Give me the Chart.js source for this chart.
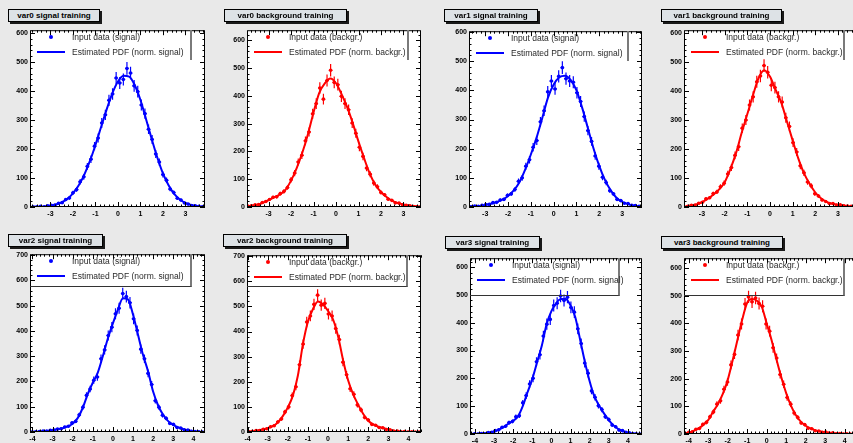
<!DOCTYPE html>
<html><head><meta charset="utf-8">
<script src="https://cdn.jsdelivr.net/npm/chart.js@4.4.1/dist/chart.umd.min.js"></script>
<style>
html,body{margin:0;padding:0;}
body{width:853px;height:443px;overflow:hidden;background:#e9e9e9;position:relative;font-family:"Liberation Sans",Arial,sans-serif;}
canvas{position:absolute;}
.ttl{position:absolute;box-sizing:border-box;border:1px solid #000;background:#dde2e6;box-shadow:2px 2px 0 #1a1a1a;font-weight:bold;font-size:8px;text-align:center;color:#000;white-space:nowrap;}
.leg{position:absolute;box-sizing:border-box;pointer-events:none;}
.leg span{position:absolute;font-size:8.5px;line-height:10px;color:#2a2a2a;white-space:nowrap;}
.leg i{position:absolute;display:block;}
</style></head><body>
<script>
// ===================== DATA =====================
// var0 signal
const var0SignalBinStart = -4.0, var0SignalBinWidth = 0.16;
const var0SignalCounts = [0,0,1,2,1,4,6,7,13,15, 26,31,49,60,87,104,140,165,210,238, 290,318,368,390,445,428,440,478,462,418, 398,352,322,268,233,183,155,112,92,62, 50,30,24,14,10,5,4,2,1,1];
const var0SignalPdfStart = -4.0, var0SignalPdfStep = 0.25;
const var0SignalPdf = [0,0.5,1,2,4,9,16,28,47,74,111,158,214,276,337,392,433,453,450,420,369,303,235,171,116,75,45,26,14,7,3,1,0.5];
const var0SignalXRange = [-3.91, 3.87];
const var0SignalXTicks = [-3,-2,-1,0,1,2,3];
const var0SignalYMax = 610;
const var0SignalYTicks = [0,100,200,300,400,500,600];

// var0 background
const var0BackgroundBinStart = -4.0, var0BackgroundBinWidth = 0.16;
const var0BackgroundCounts = [3,4,8,9,16,20,27,35,37,48, 56,70,98,122,162,186,238,270,335,372, 428,388,455,492,448,440,398,372,350,302, 265,215,182,140,118,86,73,52,44,28, 24,15,14,8,6,4,2,1,1];
const var0BackgroundPdfStart = -4.0, var0BackgroundPdfStep = 0.25;
const var0BackgroundPdf = [2,5,8,15,25,35,45,62,95,140,195,262,340,410,445,462,445,405,358,300,235,175,120,80,54,36,22,14,9,5,3,1,0.5];
const var0BackgroundXRange = [-3.96, 3.78];
const var0BackgroundXTicks = [-3,-2,-1,0,1,2,3];
const var0BackgroundYMax = 636;
const var0BackgroundYTicks = [0,100,200,300,400,500,600];

// var1 signal
const var1SignalBinStart = -3.7, var1SignalBinWidth = 0.16;
const var1SignalCounts = [1,3,2,6,8,9,15,16,24,26, 40,45,60,88,100,140,162,205,228,292, 330,395,432,405,448,478,440,432,428,392, 362,310,262,225,175,140,102,84,56,45, 26,22,13,12,6,5,2];
const var1SignalPdfStart = -3.75, var1SignalPdfStep = 0.25;
const var1SignalPdf = [1,2,3,7,11,17,25,38,57,85,128,180,238,305,375,420,445,450,435,400,340,270,200,140,92,57,32,18,10,5,2,1];
const var1SignalXRange = [-3.71, 3.87];
const var1SignalXTicks = [-3,-2,-1,0,1,2,3];
const var1SignalYMax = 603;
const var1SignalYTicks = [0,100,200,300,400,500,600];

// var1 background
const var1BackgroundBinStart = -3.7, var1BackgroundBinWidth = 0.16;
const var1BackgroundCounts = [2,6,7,13,16,28,32,46,52,70, 82,114,136,178,208,272,300,352,380,432, 452,488,465,420,412,380,362,308,278,222, 190,142,118,86,73,46,38,24,19,12, 12,7,8,4,3,2,1,0,1];
const var1BackgroundPdfStart = -3.75, var1BackgroundPdfStep = 0.25;
const var1BackgroundPdf = [2,5,9,17,28,42,60,85,130,185,255,320,385,445,472,450,405,360,295,230,168,117,80,50,30,18,11,7,5,2,1,0,0];
const var1BackgroundXRange = [-3.79, 4.06];
const var1BackgroundXTicks = [-3,-2,-1,0,1,2,3,4];
const var1BackgroundYMax = 610;
const var1BackgroundYTicks = [0,100,200,300,400,500,600];

// var2 signal
const var2SignalBinStart = -4.1, var2SignalBinWidth = 0.18;
const var2SignalCounts = [0,1,2,4,4,7,8,12,13,20, 23,36,42,68,98,145,170,205,218,290, 325,382,415,468,490,548,536,512,448,402, 328,290,232,188,124,98,66,54,34,30, 18,16,9,8,3,2,1,0];
const var2SignalPdfStart = -4.25, var2SignalPdfStep = 0.25;
const var2SignalPdf = [0,1,1,2,4,7,11,15,22,33,55,95,150,195,235,300,370,430,485,530,525,465,385,305,240,160,105,68,43,28,18,11,6,3,1,0,0];
const var2SignalXRange = [-4.12, 4.58];
const var2SignalXTicks = [-4,-3,-2,-1,0,1,2,3,4];
const var2SignalYMax = 704;
const var2SignalYTicks = [0,100,200,300,400,500,600,700];

// var2 background
const var2BackgroundBinStart = -4.03, var2BackgroundBinWidth = 0.18;
const var2BackgroundCounts = [1,3,6,6,11,13,21,25,40,52, 80,100,145,180,268,350,438,462,508,545, 505,512,470,462,412,368,278,228,172,150, 108,88,58,48,30,27,18,17,10,9, 4,4,1,2,0,1,0,0];
const var2BackgroundPdfStart = -4.25, var2BackgroundPdfStep = 0.25;
const var2BackgroundPdf = [1,2,3,6,10,15,23,38,63,98,145,225,350,440,490,520,508,482,448,380,285,205,150,108,72,45,30,21,15,10,5,3,1,1,0,0,0];
const var2BackgroundXRange = [-4.03, 4.62];
const var2BackgroundXTicks = [-4,-3,-2,-1,0,1,2,3,4];
const var2BackgroundYMax = 704;
const var2BackgroundYTicks = [0,100,200,300,400,500,600,700];

// var3 signal
const var3SignalBinStart = -4.29, var3SignalBinWidth = 0.18;
const var3SignalCounts = [0,1,0,2,1,5,6,12,15,24, 28,41,45,62,66,112,138,180,200,260, 285,352,395,412,462,470,496,480,492,455, 438,378,325,255,218,155,132,102,88,62, 52,32,26,14,12,6,4,1,1,0];
const var3SignalPdfStart = -4.25, var3SignalPdfStep = 0.25;
const var3SignalPdf = [0,0,1,2,5,9,16,25,37,48,63,100,150,198,258,318,395,442,470,485,485,462,420,340,260,190,135,102,74,50,31,18,10,5,2,0,0];
const var3SignalXRange = [-4.26, 4.74];
const var3SignalXTicks = [-4,-3,-2,-1,0,1,2,3,4];
const var3SignalYMax = 632;
const var3SignalYTicks = [0,100,200,300,400,500,600];

// var3 background
const var3BackgroundBinStart = -4.26, var3BackgroundBinWidth = 0.18;
const var3BackgroundCounts = [2,6,8,17,20,35,42,62,80,108, 120,162,188,250,288,358,398,470,496,478, 492,472,462,398,372,312,275,215,180,132, 108,76,60,40,34,21,19,12,11,6, 7,3,4,1,2,0,1,0,0,0];
const var3BackgroundPdfStart = -4.25, var3BackgroundPdfStep = 0.25;
const var3BackgroundPdf = [2,5,11,20,33,50,80,108,145,195,265,340,415,475,488,482,460,400,340,270,205,148,102,68,45,30,20,13,9,6,4,2,1,1,0,0,0,0];
const var3BackgroundXRange = [-4.24, 4.94];
const var3BackgroundXTicks = [-4,-3,-2,-1,0,1,2,3,4];
const var3BackgroundYMax = 636;
const var3BackgroundYTicks = [0,100,200,300,400,500,600];

const seriesLabels = {
  signal: ['Input data (signal)', 'Estimated PDF (norm. signal)'],
  background: ['Input data (backgr.)', 'Estimated PDF (norm. backgr.)']
};

// ===================== PANELS (data refs) =====================
const panelData = [
  {title:'var0 signal training', kind:'signal', start:var0SignalBinStart, width:var0SignalBinWidth, counts:var0SignalCounts, pdfStart:var0SignalPdfStart, pdfStep:var0SignalPdfStep, pdf:var0SignalPdf, xr:var0SignalXRange, xt:var0SignalXTicks, ymax:var0SignalYMax, yt:var0SignalYTicks},
  {title:'var0 background training', kind:'background', start:var0BackgroundBinStart, width:var0BackgroundBinWidth, counts:var0BackgroundCounts, pdfStart:var0BackgroundPdfStart, pdfStep:var0BackgroundPdfStep, pdf:var0BackgroundPdf, xr:var0BackgroundXRange, xt:var0BackgroundXTicks, ymax:var0BackgroundYMax, yt:var0BackgroundYTicks},
  {title:'var1 signal training', kind:'signal', start:var1SignalBinStart, width:var1SignalBinWidth, counts:var1SignalCounts, pdfStart:var1SignalPdfStart, pdfStep:var1SignalPdfStep, pdf:var1SignalPdf, xr:var1SignalXRange, xt:var1SignalXTicks, ymax:var1SignalYMax, yt:var1SignalYTicks},
  {title:'var1 background training', kind:'background', start:var1BackgroundBinStart, width:var1BackgroundBinWidth, counts:var1BackgroundCounts, pdfStart:var1BackgroundPdfStart, pdfStep:var1BackgroundPdfStep, pdf:var1BackgroundPdf, xr:var1BackgroundXRange, xt:var1BackgroundXTicks, ymax:var1BackgroundYMax, yt:var1BackgroundYTicks},
  {title:'var2 signal training', kind:'signal', start:var2SignalBinStart, width:var2SignalBinWidth, counts:var2SignalCounts, pdfStart:var2SignalPdfStart, pdfStep:var2SignalPdfStep, pdf:var2SignalPdf, xr:var2SignalXRange, xt:var2SignalXTicks, ymax:var2SignalYMax, yt:var2SignalYTicks},
  {title:'var2 background training', kind:'background', start:var2BackgroundBinStart, width:var2BackgroundBinWidth, counts:var2BackgroundCounts, pdfStart:var2BackgroundPdfStart, pdfStep:var2BackgroundPdfStep, pdf:var2BackgroundPdf, xr:var2BackgroundXRange, xt:var2BackgroundXTicks, ymax:var2BackgroundYMax, yt:var2BackgroundYTicks},
  {title:'var3 signal training', kind:'signal', start:var3SignalBinStart, width:var3SignalBinWidth, counts:var3SignalCounts, pdfStart:var3SignalPdfStart, pdfStep:var3SignalPdfStep, pdf:var3SignalPdf, xr:var3SignalXRange, xt:var3SignalXTicks, ymax:var3SignalYMax, yt:var3SignalYTicks},
  {title:'var3 background training', kind:'background', start:var3BackgroundBinStart, width:var3BackgroundBinWidth, counts:var3BackgroundCounts, pdfStart:var3BackgroundPdfStart, pdfStep:var3BackgroundPdfStep, pdf:var3BackgroundPdf, xr:var3BackgroundXRange, xt:var3BackgroundXTicks, ymax:var3BackgroundYMax, yt:var3BackgroundYTicks}
];

// ===================== LAYOUT / STYLE =====================
const panelLayout = [
  {plot:[30,30,205,207],  title:[8,9,92,13],    legR:192, legB:null},
  {plot:[247,30,421,207], title:[224,9,123,13], legR:409, legB:null},
  {plot:[469,31,642,207], title:[444,9,94,13],  legR:629, legB:null},
  {plot:[684,30,862,207], title:[661,9,121,13], legR:845, legB:null},
  {plot:[30,254,205,432], title:[8,234,95,13],  legR:192, legB:287},
  {plot:[247,255,421,432],title:[223,234,124,13],legR:408, legB:287},
  {plot:[470,258,642,434],title:[445,236,95,13], legR:620, legB:296},
  {plot:[684,258,863,434],title:[661,236,122,13],legR:845, legB:296}
];
const kindColor = {signal:'#0000ff', background:'#ff0000'};
const tickFont = {family:'"Liberation Sans", Arial, sans-serif', size:7, weight:'bold'};

const framePlugin = {
  id:'frame',
  beforeDraw(chart){
    const {ctx, chartArea:a} = chart;
    ctx.save(); ctx.fillStyle='#ffffff'; ctx.fillRect(a.left,a.top,a.width,a.height); ctx.restore();
  },
  afterDraw(chart){
    const {ctx, chartArea:a, scales:{x,y}} = chart;
    ctx.save();
    ctx.strokeStyle='#000'; ctx.lineWidth=1;
    ctx.strokeRect(a.left+0.5,a.top+0.5,a.width-1,a.height-1);
    ctx.beginPath();
    for(let k=Math.ceil(x.min*5); k<=Math.floor(x.max*5); k++){
      const px=Math.round(x.getPixelForValue(k/5))+0.5;
      const len=(k%5===0)?5:2.5;
      ctx.moveTo(px,a.bottom); ctx.lineTo(px,a.bottom-len);
      ctx.moveTo(px,a.top); ctx.lineTo(px,a.top+len);
    }
    for(let k=0; k*20<=y.max; k++){
      const py=Math.round(y.getPixelForValue(k*20))+0.5;
      const len=(k%5===0)?5:2.5;
      ctx.moveTo(a.left,py); ctx.lineTo(a.left+len,py);
      ctx.moveTo(a.right,py); ctx.lineTo(a.right-len,py);
    }
    ctx.stroke();
    ctx.restore();
  }
};
const errorPlugin = {
  id:'errbars',
  afterDatasetsDraw(chart){
    const ds = chart.data.datasets[1];
    const {ctx, chartArea:a, scales:{x,y}} = chart;
    ctx.save();
    ctx.beginPath(); ctx.rect(a.left,a.top,a.width,a.height); ctx.clip();
    ctx.strokeStyle=ds.borderColor; ctx.lineWidth=1.2;
    ctx.beginPath();
    ds.data.forEach(p=>{
      if(p.y<=0) return;
      const e=Math.sqrt(p.y);
      const px=x.getPixelForValue(p.x), py=y.getPixelForValue(p.y);
      ctx.moveTo(px,y.getPixelForValue(p.y+e)); ctx.lineTo(px,y.getPixelForValue(Math.max(p.y-e,0)));
      ctx.moveTo(x.getPixelForValue(p.x-ds.halfWidth),py); ctx.lineTo(x.getPixelForValue(p.x+ds.halfWidth),py);
    });
    ctx.stroke();
    ctx.restore();
  }
};

function build(d, L){
  const col = kindColor[d.kind];
  const [pl,pt,pr,pb] = L.plot;
  const cx=pl-28, cy=pt-6, cw=pr-cx+8, ch=pb-cy+14;
  const c=document.createElement('canvas');
  c.width=cw; c.height=ch;
  c.style.left=cx+'px'; c.style.top=cy+'px'; c.style.width=cw+'px'; c.style.height=ch+'px';
  document.body.appendChild(c);
  const pts=d.counts.map((v,i)=>({x:d.start+(i+0.5)*d.width, y:v}));
  const pdf=d.pdf.map((v,i)=>({x:d.pdfStart+i*d.pdfStep, y:v}));
  new Chart(c,{
    type:'scatter',
    data:{datasets:[
      {type:'line', data:pdf, borderColor:col, borderWidth:2, pointRadius:0, cubicInterpolationMode:'monotone', fill:false, order:0},
      {data:pts, backgroundColor:col, borderColor:col, pointRadius:1.8, pointBorderWidth:0, order:1, halfWidth:d.width/2}
    ]},
    options:{
      responsive:false, animation:false, devicePixelRatio:1, events:[],
      layout:{padding:{top:6,right:8,left:0,bottom:0}},
      plugins:{legend:{display:false}, tooltip:{enabled:false}},
      scales:{
        x:{type:'linear', min:d.xr[0], max:d.xr[1],
           grid:{display:false, drawTicks:false}, border:{display:false},
           ticks:{font:tickFont, color:'#000', padding:3, maxRotation:0, autoSkip:false},
           afterBuildTicks:ax=>{ax.ticks=d.xt.map(v=>({value:v}));},
           afterFit:ax=>{ax.height=14;}},
        y:{type:'linear', min:0, max:d.ymax,
           grid:{display:false, drawTicks:false}, border:{display:false},
           ticks:{font:tickFont, color:'#000', padding:2, autoSkip:false},
           afterBuildTicks:ax=>{ax.ticks=d.yt.map(v=>({value:v}));},
           afterFit:ax=>{ax.width=28;}}
      }
    },
    plugins:[framePlugin, errorPlugin]
  });
  // title box
  const t=document.createElement('div'); t.className='ttl';
  const [tx,ty,tw,th]=L.title;
  t.style.left=tx+'px'; t.style.top=ty+'px'; t.style.width=tw+'px'; t.style.height=th+'px'; t.style.lineHeight=(th-2)+'px';
  t.textContent=d.title; document.body.appendChild(t);
  // legend
  const lg=document.createElement('div'); lg.className='leg';
  const lh=(L.legB?L.legB:pt+30)-pt;
  lg.style.left=pl+'px'; lg.style.top=pt+'px'; lg.style.width=(L.legR-pl)+'px'; lg.style.height=lh+'px';
  lg.style.borderRight='2px solid #7a7a7a';
  if(L.legB) lg.style.borderBottom='1px solid #333';
  const labels=seriesLabels[d.kind];
  const m=document.createElement('i'); m.style.cssText=`left:19px;top:5px;width:4px;height:4px;border-radius:2px;background:${col};`; lg.appendChild(m);
  const ln=document.createElement('i'); ln.style.cssText=`left:7px;top:21px;width:28px;height:1.6px;background:${col};`; lg.appendChild(ln);
  const s1=document.createElement('span'); s1.style.left='42px'; s1.style.top='2px'; s1.textContent=labels[0]; lg.appendChild(s1);
  const s2=document.createElement('span'); s2.style.left='42px'; s2.style.top='17px'; s2.textContent=labels[1]; lg.appendChild(s2);
  document.body.appendChild(lg);
}
panelData.forEach((d,i)=>build(d,panelLayout[i]));
</script>
</body></html>
